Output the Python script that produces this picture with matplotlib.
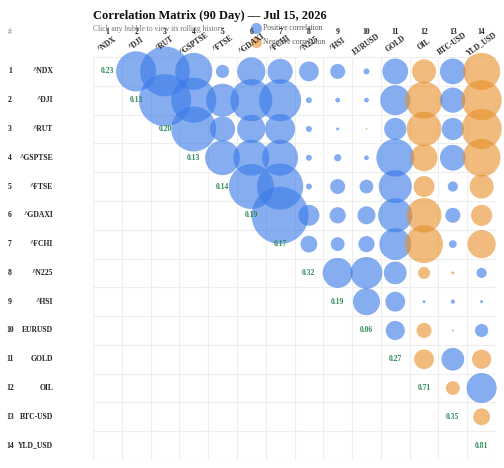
import numpy as np
import matplotlib
matplotlib.use("Agg")
import matplotlib.pyplot as plt
from matplotlib.lines import Line2D

plt.rcParams['font.family'] = ['Liberation Serif', 'DejaVu Serif']

labels = ["^NDX","^DJI","^RUT","^GSPTSE","^FTSE","^GDAXI","^FCHI","^N225","^HSI","EURUSD","GOLD","OIL","BTC-USD","YLD_USD"]
diag = [0.23,0.13,0.20,0.13,0.14,0.19,0.17,0.32,0.19,0.06,0.27,0.71,0.35,0.81]
# upper triangle correlations, row i, columns i+1..13
upper = [
 [0.67,0.83,0.62,0.22,0.47,0.42,0.33,0.25,0.10,0.43,-0.40,0.43,-0.62],
 [0.87,0.75,0.55,0.70,0.70,0.10,0.08,0.08,0.50,-0.62,0.42,-0.67],
 [0.75,0.42,0.47,0.50,0.10,0.05,-0.03,0.37,-0.58,0.37,-0.67],
 [0.58,0.60,0.60,0.10,0.12,0.08,0.63,-0.45,0.43,-0.63],
 [0.75,0.77,0.10,0.25,0.23,0.55,-0.35,0.17,-0.40],
 [0.95,0.35,0.27,0.30,0.57,-0.58,0.25,-0.35],
 [0.28,0.23,0.27,0.53,-0.63,0.13,-0.47],
 [0.50,0.53,0.38,-0.20,-0.05,0.17],
 [0.45,0.33,0.05,0.07,0.05],
 [0.32,-0.25,0.03,0.22],
 [-0.33,0.38,-0.32],
 [-0.23,0.50],
 [-0.28],
]

W, H = 504, 468
fig = plt.figure(figsize=(W/100, H/100), dpi=100)
L, R, T, B = 93, 496, 57, 460
ax = fig.add_axes([L/W, 1-B/H, (R-L)/W, (B-T)/H])
n = len(labels)
ax.set_xlim(0, n); ax.set_ylim(n, 0)
for k in range(n+1):
    ax.axhline(k, color='#eeeeee', lw=0.8, zorder=0)
    ax.axvline(k, color='#eeeeee', lw=0.8, zorder=0)
ax.set_xticks([]); ax.set_yticks([])
for s in ax.spines.values(): s.set_visible(False)

cell = (R-L)/n
xs, ys, ss, cs = [], [], [], []
for i, row in enumerate(upper):
    for j, v in enumerate(row):
        c = i+1+j
        xs.append(c+0.5); ys.append(i+0.5)
        d = abs(v)*60*0.72
        ss.append(max(d, 1.2)**2)
        cs.append('#3b7be8' if v >= 0 else '#e8912c')
ax.scatter(xs, ys, s=ss, c=cs, alpha=0.62, linewidths=0, zorder=3, clip_on=False)
for i, v in enumerate(diag):
    ax.text(i+0.5, i+0.5, f"{v:.2f}", ha='center', va='center', fontsize=5.5,
            color='#2e8b57', fontweight='bold', zorder=4)

for i, lab in enumerate(labels):
    yp = 1-(T+(i+0.5)*cell)/H
    fig.text(10/W, yp, str(i+1), ha='center', va='center', fontsize=5.5, fontweight='bold', color='#222')
    fig.text(53/W, yp, lab, ha='right', va='center', fontsize=5.5, fontweight='bold', color='#222')
    xp = (L+(i+0.5)*cell)/W
    fig.text(xp, 1-32/H, str(i+1), ha='center', va='center', fontsize=5.5, fontweight='bold', color='#222')
    fig.text(xp, 1-44/H, lab, ha='center', va='center', rotation=35, fontsize=5.5,
             fontweight='bold', color='#222', rotation_mode='anchor')
fig.text(10/W, 1-32/H, "#", ha='center', va='center', fontsize=5.5, color='#777')

fig.text(93/W, 1-16/H, "Correlation Matrix (90 Day) — Jul 15, 2026", ha='left', va='center',
         fontsize=9, fontweight='bold', color='#111')
fig.text(93/W, 1-29/H, "Click any bubble to view its rolling history", ha='left', va='center',
         fontsize=5.5, color='#777')
for yy, col in [(28, '#3b7be8'), (42, '#e8912c')]:
    fig.add_artist(Line2D([256/W], [1-yy/H], marker='o', markersize=8, color=col, alpha=0.62,
                          markeredgewidth=0, linestyle='none', transform=fig.transFigure))
fig.text(263/W, 1-28/H, "Positive correlation", ha='left', va='center', fontsize=5.5, color='#555')
fig.text(263/W, 1-42/H, "Negative correlation", ha='left', va='center', fontsize=5.5, color='#555')

fig.savefig("out.png", dpi=100)
